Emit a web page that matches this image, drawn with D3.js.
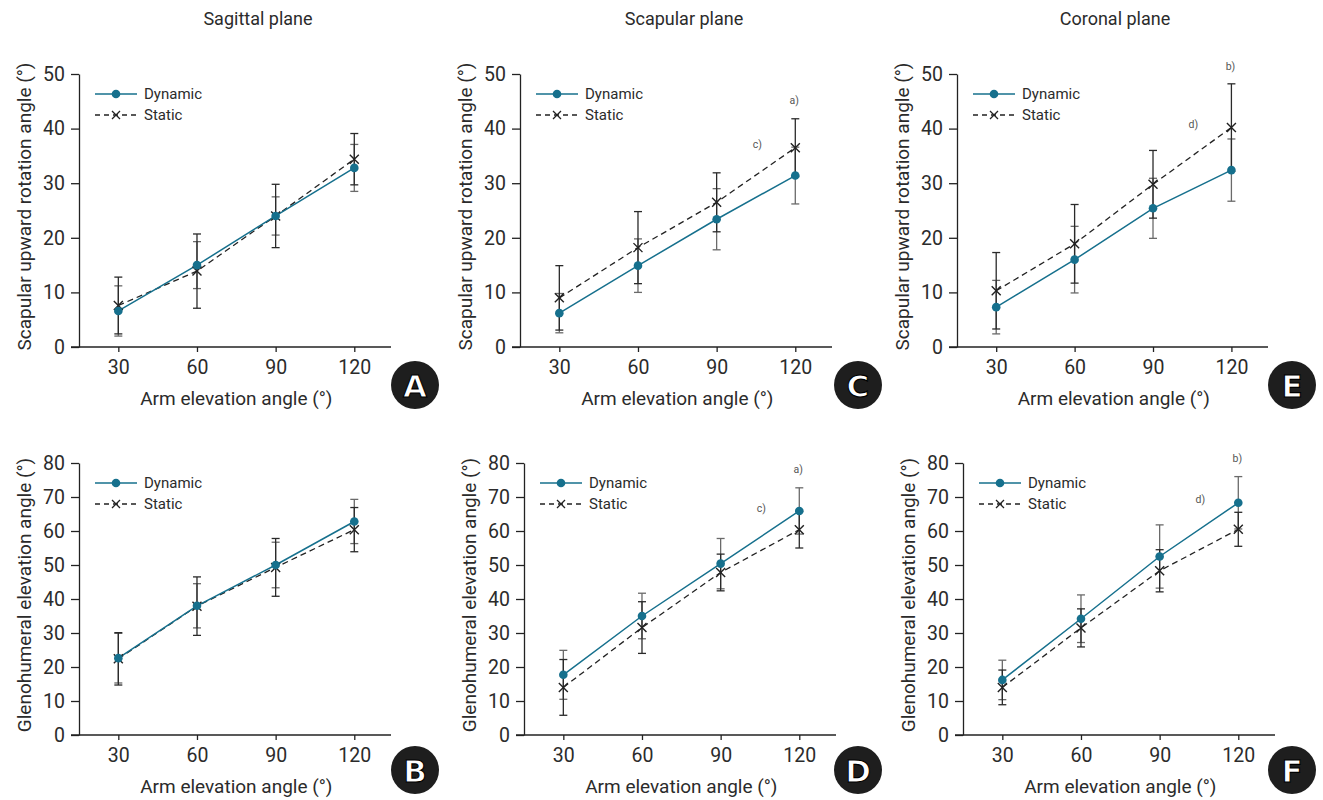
<!DOCTYPE html>
<html>
<head>
<meta charset="utf-8">
<script src="https://d3js.org/d3.v7.min.js"></script>
<style>
  body { margin: 0; background: #fff; }
  svg { font-family: Roboto, "Noto Sans", sans-serif; }
</style>
</head>
<body>
<div id="chart"></div>
<script>
// arm elevation angles (x values)
const angles = [30, 60, 90, 120];
const seriesNames = ["Dynamic", "Static"];
const planes = ["Sagittal plane", "Scapular plane", "Coronal plane"];

// scapular upward rotation (top row), mean and SD
const sagScapDyn = [6.6, 15.0, 24.0, 32.8];
const sagScapDynSD = [4.6, 4.3, 3.5, 4.3];
const sagScapSta = [7.6, 13.9, 24.0, 34.4];
const sagScapStaSD = [5.2, 6.8, 5.8, 4.7];

const scpScapDyn = [6.2, 14.9, 23.4, 31.4];
const scpScapDynSD = [3.6, 4.9, 5.6, 5.2];
const scpScapSta = [9.0, 18.2, 26.5, 36.5];
const scpScapStaSD = [5.9, 6.6, 5.4, 5.3];

const corScapDyn = [7.3, 16.0, 25.4, 32.4];
const corScapDynSD = [4.9, 6.1, 5.5, 5.7];
const corScapSta = [10.3, 18.9, 29.8, 40.2];
const corScapStaSD = [7.0, 7.2, 6.2, 8.0];

// glenohumeral elevation (bottom row), mean and SD
const sagGhDyn = [22.6, 38.0, 50.0, 62.8];
const sagGhDynSD = [7.3, 6.5, 6.7, 6.5];
const sagGhSta = [22.4, 37.9, 49.3, 60.4];
const sagGhStaSD = [7.7, 8.6, 8.5, 6.5];

const scpGhDyn = [17.7, 35.0, 50.4, 65.9];
const scpGhDynSD = [7.2, 6.7, 7.4, 6.8];
const scpGhSta = [14.0, 31.6, 47.8, 60.4];
const scpGhStaSD = [8.2, 7.6, 5.4, 5.4];

const corGhDyn = [16.2, 34.2, 52.5, 68.3];
const corGhDynSD = [5.8, 7.0, 9.3, 7.7];
const corGhSta = [14.0, 31.5, 48.3, 60.5];
const corGhStaSD = [5.1, 5.6, 6.2, 5.0];

const scapTicks = [0, 10, 20, 30, 40, 50];
const ghTicks = [0, 10, 20, 30, 40, 50, 60, 70, 80];
const xLabel = "Arm elevation angle (\u00b0)";
const scapLabel = "Scapular upward rotation angle (\u00b0)";
const ghLabel = "Glenohumeral elevation angle (\u00b0)";

const dynColor = "#16708d";
const textColor = "#2b2b2b";

const svg = d3.select("#chart").append("svg")
  .attr("width", 1323).attr("height", 800);

// column titles
const titleX = [258, 684, 1115];
planes.forEach((p, i) => {
  svg.append("text").attr("x", titleX[i]).attr("y", 25)
    .attr("text-anchor", "middle").attr("font-size", 18).attr("fill", textColor)
    .text(p);
});

function drawPanel(o) {
  const g = svg.append("g");
  const x = d3.scaleLinear().domain([15, 134]).range([o.left, o.right]);
  const yMax = d3.max(o.ticks);
  const y = d3.scaleLinear().domain([0, yMax]).range([o.bottom, o.top]);

  // y axis
  const yAx = g.append("g").attr("transform", `translate(${o.left},0)`)
    .call(d3.axisLeft(y).tickValues(o.ticks).tickSize(8).tickSizeOuter(0).tickPadding(6));
  // x axis
  const xAx = g.append("g").attr("transform", `translate(0,${o.bottom})`)
    .call(d3.axisBottom(x).tickValues(angles).tickSize(5).tickSizeOuter(0).tickPadding(8));
  xAx.select(".domain").remove();
  g.append("line").attr("x1", o.left - 8).attr("x2", o.right)
    .attr("y1", o.bottom).attr("y2", o.bottom).attr("stroke", "#222").attr("stroke-width", 1.3);
  [yAx, xAx].forEach(a => {
    a.selectAll("path,line").attr("stroke", "#222").attr("stroke-width", 1.3);
    a.selectAll("text").attr("font-size", 19.5).attr("fill", textColor)
      .attr("font-family", "Roboto, 'Noto Sans', sans-serif");
  });

  // axis titles
  g.append("text").attr("x", (x(30) + x(120)) / 2).attr("y", o.bottom + 58)
    .attr("text-anchor", "middle").attr("font-size", 19).attr("fill", textColor)
    .text(xLabel);
  g.append("text")
    .attr("transform", `translate(${o.left - 55},${(o.top + o.bottom) / 2 - 4}) rotate(-90)`)
    .attr("text-anchor", "middle").attr("dy", "0.35em").attr("font-size", 19).attr("fill", textColor)
    .text(o.ylabel);

  const pts = (m, sd) => angles.map((a, i) => ({ a: a, m: m[i], sd: sd[i] }));
  const dyn = pts(o.dyn, o.dynSD);
  const sta = pts(o.sta, o.staSD);

  // error bars
  function bars(data, color) {
    const eb = g.append("g").attr("stroke", color).attr("stroke-width", 1.3);
    data.forEach(d => {
      const cx = x(d.a);
      eb.append("line").attr("x1", cx).attr("x2", cx)
        .attr("y1", y(d.m - d.sd)).attr("y2", y(d.m + d.sd));
      [d.m - d.sd, d.m + d.sd].forEach(v => {
        eb.append("line").attr("x1", cx - 4).attr("x2", cx + 4)
          .attr("y1", y(v)).attr("y2", y(v));
      });
    });
  }
  bars(dyn, "#6a6a6a");
  bars(sta, "#2a2a2a");

  const line = d3.line().x(d => x(d.a)).y(d => y(d.m));
  g.append("path").datum(sta).attr("d", line).attr("fill", "none")
    .attr("stroke", "#222").attr("stroke-width", 1.3).attr("stroke-dasharray", "6,4");
  g.append("path").datum(dyn).attr("d", line).attr("fill", "none")
    .attr("stroke", dynColor).attr("stroke-width", 1.5);

  // markers
  sta.forEach(d => {
    const cx = x(d.a), cy = y(d.m), s = 4.5;
    g.append("path").attr("d", `M${cx - s},${cy - s}L${cx + s},${cy + s}M${cx - s},${cy + s}L${cx + s},${cy - s}`)
      .attr("stroke", "#222").attr("stroke-width", 1.4);
  });
  g.selectAll(null).data(dyn).enter().append("circle")
    .attr("cx", d => x(d.a)).attr("cy", d => y(d.m)).attr("r", 4.3).attr("fill", dynColor);

  // legend
  const lx = o.left + 16, ly1 = o.top + 20, ly2 = o.top + 41;
  g.append("line").attr("x1", lx).attr("x2", lx + 42).attr("y1", ly1).attr("y2", ly1)
    .attr("stroke", dynColor).attr("stroke-width", 1.5);
  g.append("circle").attr("cx", lx + 21).attr("cy", ly1).attr("r", 4.3).attr("fill", dynColor);
  g.append("line").attr("x1", lx).attr("x2", lx + 42).attr("y1", ly2).attr("y2", ly2)
    .attr("stroke", "#222").attr("stroke-width", 1.3).attr("stroke-dasharray", "5,4");
  g.append("path").attr("d", `M${lx + 17},${ly2 - 4}L${lx + 25},${ly2 + 4}M${lx + 17},${ly2 + 4}L${lx + 25},${ly2 - 4}`)
    .attr("stroke", "#222").attr("stroke-width", 1.3);
  [ly1, ly2].forEach((ly, i) => {
    g.append("text").attr("x", lx + 49).attr("y", ly).attr("dy", "0.35em")
      .attr("font-size", 15).attr("fill", textColor).text(seriesNames[i]);
  });

  // significance marks at 120
  if (o.marks) {
    const last = 3;
    const topCap = Math.max(o.dyn[last] + o.dynSD[last], o.sta[last] + o.staSD[last]);
    const hiMean = Math.max(o.dyn[last], o.sta[last]);
    g.append("text").attr("x", x(120) - 1).attr("y", y(topCap) - 18)
      .attr("text-anchor", "middle").attr("dy", "0.35em").attr("font-size", 10.5).attr("fill", "#555")
      .text(o.marks[0]);
    g.append("text").attr("x", x(120) - 38).attr("y", y(hiMean) - 3)
      .attr("text-anchor", "middle").attr("dy", "0.35em").attr("font-size", 10.5).attr("fill", "#555")
      .text(o.marks[1]);
  }

  // panel letter
  g.append("circle").attr("cx", o.badge[0]).attr("cy", o.badge[1]).attr("r", 24).attr("fill", "#1e1e1e");
  g.append("text").attr("x", o.badge[0]).attr("y", o.badge[1] + 1).attr("dy", "0.35em")
    .attr("text-anchor", "middle").attr("font-size", 31).attr("font-weight", 900)
    .attr("font-family", "'DejaVu Sans', sans-serif")
    .attr("fill", "#fff").attr("stroke", "#000").attr("stroke-width", 1.2)
    .text(o.letter);
}

drawPanel({ left: 79, right: 391, top: 74, bottom: 347, ticks: scapTicks, ylabel: scapLabel,
  dyn: sagScapDyn, dynSD: sagScapDynSD, sta: sagScapSta, staSD: sagScapStaSD, letter: "A", badge: [415, 385] });
drawPanel({ left: 520, right: 832, top: 74, bottom: 347, ticks: scapTicks, ylabel: scapLabel,
  dyn: scpScapDyn, dynSD: scpScapDynSD, sta: scpScapSta, staSD: scpScapStaSD, letter: "C", badge: [858, 385],
  marks: ["a)", "c)"] });
drawPanel({ left: 957, right: 1268, top: 74, bottom: 347, ticks: scapTicks, ylabel: scapLabel,
  dyn: corScapDyn, dynSD: corScapDynSD, sta: corScapSta, staSD: corScapStaSD, letter: "E", badge: [1292, 385],
  marks: ["b)", "d)"] });
drawPanel({ left: 79, right: 391, top: 463, bottom: 735, ticks: ghTicks, ylabel: ghLabel,
  dyn: sagGhDyn, dynSD: sagGhDynSD, sta: sagGhSta, staSD: sagGhStaSD, letter: "B", badge: [415, 770] });
drawPanel({ left: 524, right: 836, top: 463, bottom: 735, ticks: ghTicks, ylabel: ghLabel,
  dyn: scpGhDyn, dynSD: scpGhDynSD, sta: scpGhSta, staSD: scpGhStaSD, letter: "D", badge: [858, 770],
  marks: ["a)", "c)"] });
drawPanel({ left: 963, right: 1275, top: 463, bottom: 735, ticks: ghTicks, ylabel: ghLabel,
  dyn: corGhDyn, dynSD: corGhDynSD, sta: corGhSta, staSD: corGhStaSD, letter: "F", badge: [1292, 770],
  marks: ["b)", "d)"] });
</script>
</body>
</html>
